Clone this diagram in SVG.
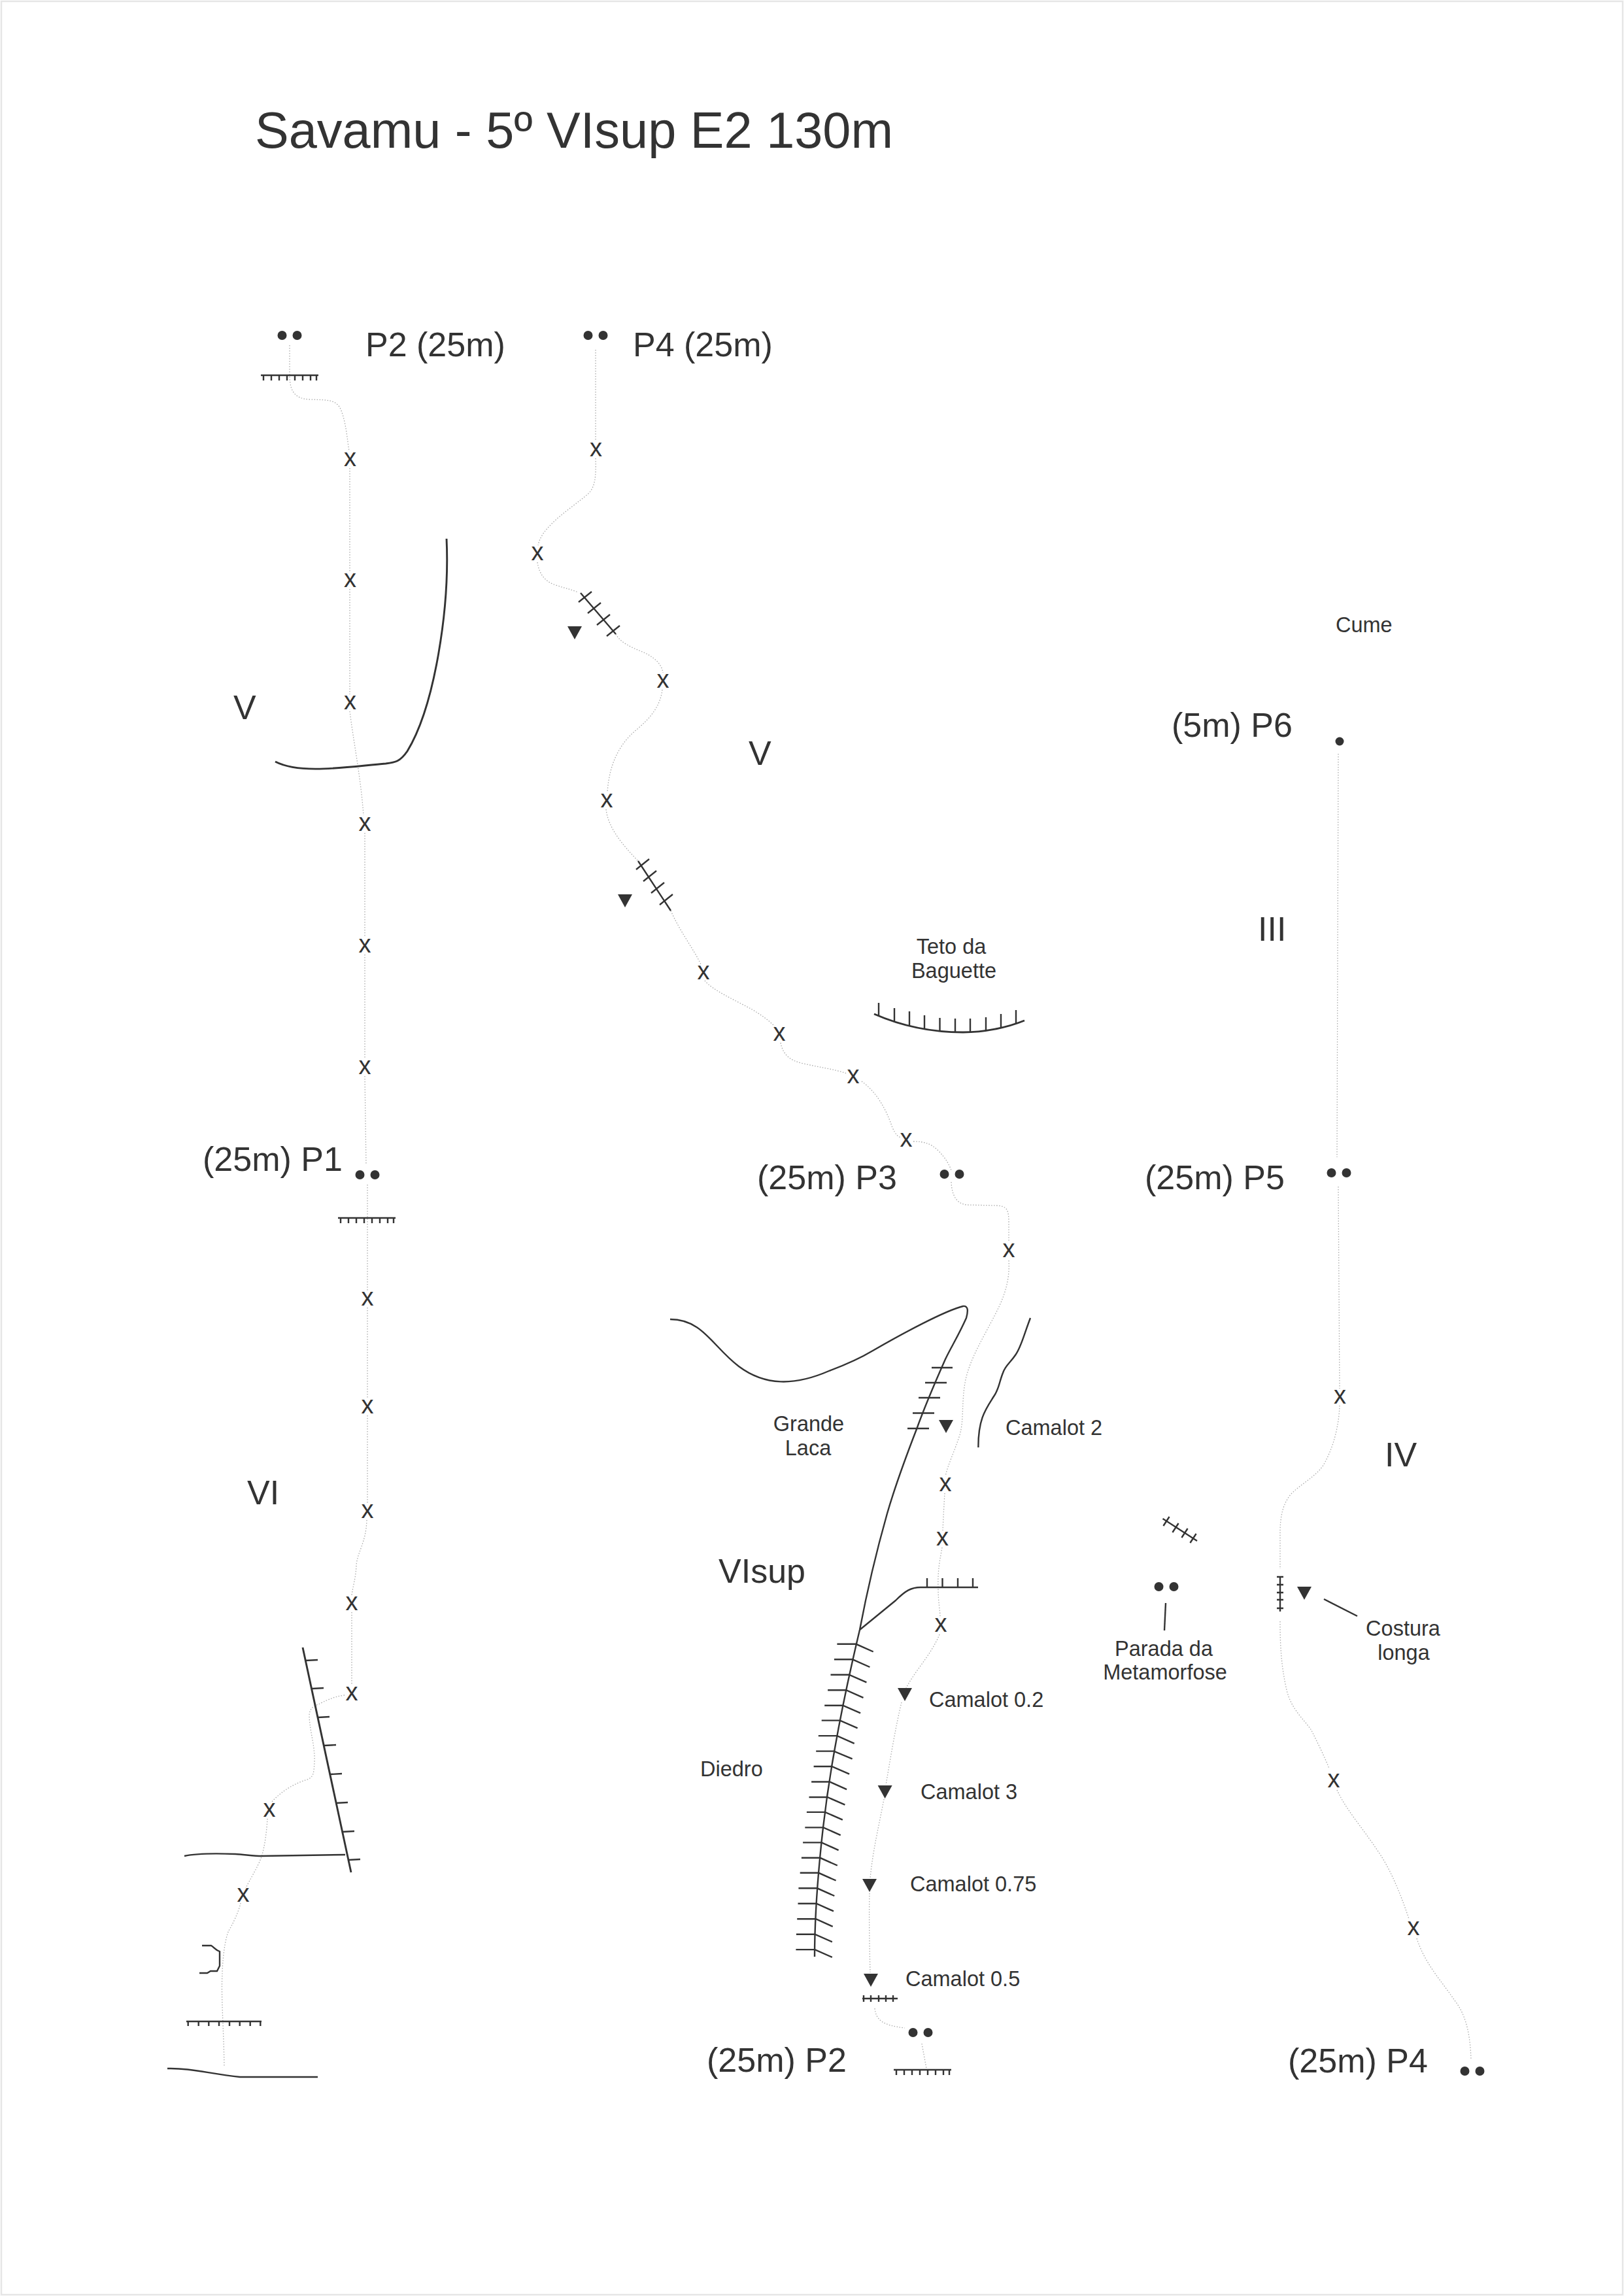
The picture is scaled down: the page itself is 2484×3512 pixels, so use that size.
<svg xmlns="http://www.w3.org/2000/svg" width="2484" height="3512" viewBox="0 0 2484 3512">
<style>
text{font-family:"Liberation Sans",Arial,sans-serif;fill:#333}
.t{font-size:77.500px}.g{font-size:52px}.s{font-size:32.500px}.x{font-size:38px;text-anchor:middle}.m{text-anchor:middle}
.r{fill:none;stroke:#aaa;stroke-width:1.300;stroke-dasharray:1.500 2.500}
.l{fill:none;stroke:#333;stroke-width:2.400;stroke-linecap:butt}
.h{fill:none;stroke:#333;stroke-width:2.900}
.d{fill:#333}
</style>
<defs>
<path id="tri" class="d" d="M-11 -10H11L0 10Z"/>
<g id="anchor"><circle cx="-11.500" cy="0" r="7" class="d"/><circle cx="11.500" cy="0" r="7" class="d"/></g>
<path id="bar" class="l" d="M-44 0H44M-40 0V8M-28 0V8M-16 0V8M-4 0V8M8 0V8M20 0V8M32 0V8M41 0V8"/>
</defs>
<rect width="2484" height="3512" fill="#fff"/>
<rect id="frame" x="2" y="2" width="2480" height="3508" fill="none" stroke="#e6e6e6" stroke-width="2.500"/>
<g id="connectors">
<path id="route-a" class="r" d="M443 528L443 577C444 600 452 610 474 611C500 612 515 610 522 628C530 650 531 672 534 690M535 716V875M535 901V1062M535 1088C540 1130 552 1190 556 1247M558 1274V1434M558 1460V1620M558 1646L560 1782M562 1812V1974M562 2000V2139M562 2165V2299M561 2325C560 2360 546 2375 545 2395C544 2415 540 2425 538 2440M538 2466V2578M527 2593C510 2595 495 2603 487 2607C478 2610 473 2615 473 2625C474 2650 482 2670 481 2695C480 2712 480 2718 470 2722C450 2728 430 2740 415 2757M409 2782C408 2800 405 2825 400 2840C395 2855 382 2875 376 2888M368 2911C365 2925 355 2945 350 2953C344 2965 340 3000 340 3020C338 3050 342 3100 343 3161"/>
<path id="route-b" class="r" d="M911 535V675M911 701C912 730 910 745 900 755C885 768 860 785 845 800C835 810 826 820 823 834M822 860C825 880 835 890 850 895C865 900 875 902 884 906M942 970C948 982 965 990 980 996C1000 1004 1012 1015 1014 1029M1013 1055C1010 1080 995 1098 975 1115C950 1135 932 1165 929 1212M927 1238C930 1265 950 1290 976 1317M1026 1393C1040 1425 1060 1450 1072 1475M1078 1500C1090 1515 1125 1530 1152 1545C1165 1553 1175 1560 1185 1570M1194 1595C1198 1615 1210 1622 1225 1626C1250 1632 1275 1635 1295 1642M1318 1654C1340 1670 1355 1695 1365 1725C1370 1735 1372 1738 1378 1740M1397 1746C1415 1746 1425 1750 1435 1760C1447 1772 1452 1782 1455 1790M1455 1808C1456 1830 1464 1842 1480 1843L1525 1844C1540 1845 1543 1850 1543 1870V1900M1543 1928C1545 1960 1535 1985 1525 2005C1505 2045 1485 2075 1477 2110C1470 2145 1475 2170 1468 2195C1460 2220 1450 2240 1446 2258M1445 2284C1444 2300 1443 2320 1442 2341M1441 2367C1438 2385 1434 2400 1435 2430C1435 2450 1438 2465 1438 2473M1437 2500C1425 2530 1400 2555 1386 2582M1379 2604C1370 2640 1362 2690 1355 2730M1352 2752C1345 2790 1335 2830 1331 2873M1330 2896C1329 2930 1330 2980 1331 3017M1338 3072C1340 3090 1350 3098 1384 3102M1410 3126L1417 3164"/>
<path id="route-c" class="r" d="M2047 1153L2045 1770M2047 1815L2049 2124M2049 2150C2048 2180 2040 2215 2023 2243C2010 2260 1990 2270 1975 2285C1962 2300 1958 2320 1958 2345V2400M1958 2480C1958 2520 1960 2550 1968 2585C1975 2615 1995 2630 2006 2647C2015 2665 2025 2685 2033 2705M2045 2738C2060 2770 2080 2790 2110 2835C2130 2865 2145 2905 2155 2935M2167 2965C2180 3005 2205 3030 2225 3060C2245 3085 2249 3120 2250 3150"/>
<path id="leader-costura" class="l" d="M2025 2446L2076 2472"/>
<path id="leader-parada" class="l" d="M1783 2452L1781 2494"/>
</g>
<g id="title"><text class="t" x="390" y="226">Savamu - 5º VIsup E2 130m</text></g>
<g id="rock-features">
<path id="bulge" class="h" d="M683 824C688 930 665 1080 623 1149C612 1165 605 1166 590 1168C530 1173 460 1185 421 1165"/>
<g id="dihedral-left"><path class="h" d="M463 2520L537 2864"/><path class="l" d="M467 2540L486 2539M477 2583L495 2582M486 2627L504 2626M496 2670L514 2669M505 2714L523 2713M514 2758L532 2757M524 2802L542 2801M533 2845L551 2844"/></g>
<path id="ledge-low" class="l" d="M282 2839C300 2835 333 2835 360 2836C375 2837 390 2839 400 2839L528 2837"/>
<path id="cave" class="l" d="M309 2976H323C328 2979 328 2982 336 2985V3007L332 3015H322L317 3018H305"/>
<path id="bar-start" class="l" d="M285 3092H400M287.700 3092V3099M303.700 3092V3099M319.300 3092V3099M335 3092V3099M351 3092V3099M366.700 3092V3099M382.700 3092V3099M398.300 3092V3099"/>
<path id="ground" class="l" d="M256 3164C290 3163 320 3172 367 3177H486"/>
<use href="#bar" x="443" y="574"/>
<use href="#bar" x="561" y="1863"/>
<g id="teto-baguette"><path class="h" d="M1337 1551C1385 1572 1430 1579 1473 1579C1505 1579 1540 1572 1567 1561"/><path class="l" d="M1344 1534V1554M1368 1542V1563M1391 1547V1569M1414 1553V1574M1437.500 1557V1577M1461 1558V1579M1484 1558V1579M1508 1556V1577M1531 1551V1573M1554 1545V1566"/></g>
<g id="grande-laca"><path class="l" d="M1025 2018C1075 2018 1090 2060 1130 2090C1170 2120 1215 2120 1268 2097C1300 2085 1320 2075 1335 2066C1380 2040 1445 2005 1473 1998C1481 1997 1481 2005 1478 2016C1465 2045 1455 2060 1446 2079C1430 2115 1415 2150 1402 2186C1385 2230 1370 2270 1357 2315C1340 2375 1325 2440 1315 2493C1305 2535 1290 2600 1277 2674C1265 2740 1258 2800 1254 2843C1250 2885 1246 2940 1246 2993"/><path class="l" d="M1425 2092H1457M1415 2115H1448M1405 2138H1438M1396 2161.500H1429M1388 2185H1421"/><path class="l" d="M1315 2493L1370 2448C1385 2433 1394 2428 1408 2428H1496"/><path class="l" d="M1418 2428V2414M1441.500 2428V2414M1465 2428V2414M1488 2428V2414"/></g>
<path id="diedro-ticks" class="l" d="M1280.400 2514.800H1309.400L1335.700 2526.500M1275.900 2538.300H1304L1330.400 2550M1270.500 2561.700H1298.700L1325.400 2573.400M1266.100 2585.200H1294.200L1320.500 2596.900M1261.200 2608.700H1289.300L1316.100 2620.400M1256.700 2631.600H1284.800L1311.600 2643.300M1251.800 2655.100H1280.400L1306.700 2666.800M1248.200 2678.600H1275.400L1303.600 2690.300M1244.600 2702H1272.300L1299.100 2713.700M1241.100 2725.500H1269.200L1295.100 2737.200M1237.500 2749H1265.600L1292.400 2760.700M1233.900 2771.900H1262L1288.800 2783.600M1231.300 2795.400H1259.400L1285.700 2807.100M1228.100 2818.400H1256.700L1282.600 2830.100M1225.900 2841.800H1254.500L1280.800 2853.500M1223.700 2864.800H1252.200L1278.600 2876.500M1221.400 2888.300H1250L1276.300 2900M1220.500 2911.700H1248.700L1275 2923.400M1219.200 2935.200H1247.800L1273.700 2946.900M1217.900 2958.700H1246.400L1272.800 2970.400M1217.400 2982.100H1246.400L1272.800 2993.800"/>
<path id="crack-camalot2" class="l" d="M1576 2016C1565 2045 1562 2060 1553.600 2072C1545 2085 1538 2088 1534 2100C1528 2115 1528 2125 1520 2136C1508 2155 1496 2170 1496.400 2214"/>
<path id="piton-a" class="l" d="M888 907L942 970M885 921L905 905M899 938L919 922M913 956L933 940M928 973L948 957"/>
<path id="piton-b" class="l" d="M976 1317L1026 1393M973 1330L993 1314M984 1348L1004 1332M996 1366L1016 1350M1009 1384L1029 1368"/>
<path id="piton-c" class="l" d="M1778.500 2323L1831 2357M1788.600 2320L1779.400 2334M1802.600 2330L1793.400 2344M1816.600 2338L1807.400 2352M1829.600 2346L1820.400 2360"/>
<path id="piton-d" class="l" d="M1958 2412V2465M1953 2412H1963M1953 2424H1963M1953 2436H1963M1953 2447H1963M1953 2460H1963"/>
<path id="piton-e" class="l" d="M1319 3057H1373M1321 3052V3062M1332 3052V3062M1344 3052V3062M1355 3052V3062M1366 3052V3062"/>
<use href="#bar" x="1411" y="3166"/>
</g>
<g id="bolts">
<text class="x" x="535.500" y="713">x</text><text class="x" x="535.500" y="898">x</text><text class="x" x="535.500" y="1085">x</text>
<text class="x" x="558" y="1271">x</text><text class="x" x="558" y="1457">x</text><text class="x" x="558" y="1643">x</text>
<text class="x" x="562" y="1997">x</text><text class="x" x="562" y="2162">x</text><text class="x" x="562" y="2322">x</text>
<text class="x" x="538" y="2463">x</text><text class="x" x="538" y="2601">x</text><text class="x" x="412" y="2779">x</text><text class="x" x="372" y="2909">x</text>
<text class="x" x="911.500" y="698">x</text><text class="x" x="822" y="857">x</text><text class="x" x="1014" y="1052">x</text><text class="x" x="928" y="1235">x</text>
<text class="x" x="1076" y="1498">x</text><text class="x" x="1192" y="1592">x</text><text class="x" x="1305" y="1657">x</text><text class="x" x="1386" y="1754">x</text><text class="x" x="1543" y="1923">x</text>
<text class="x" x="1446" y="2281">x</text><text class="x" x="1441.500" y="2364">x</text><text class="x" x="1439" y="2496">x</text>
<text class="x" x="2049.500" y="2147">x</text><text class="x" x="2040" y="2734">x</text><text class="x" x="2162" y="2960">x</text>
</g>
<g id="cams">
<use href="#tri" x="879" y="968"/><use href="#tri" x="956" y="1378"/><use href="#tri" x="1447" y="2182"/><use href="#tri" x="1384" y="2592"/><use href="#tri" x="1353.600" y="2741"/><use href="#tri" x="1330" y="2884"/><use href="#tri" x="1332" y="3029"/><use href="#tri" x="1995" y="2437"/>
</g>
<g id="belays">
<g id="belay-p2-top"><use href="#anchor" x="443" y="513"/></g>
<g id="belay-p4-top"><use href="#anchor" x="911" y="513"/></g>
<g id="belay-p1"><use href="#anchor" x="562" y="1797"/></g>
<g id="belay-p3"><use href="#anchor" x="1456" y="1796"/></g>
<g id="belay-p5"><use href="#anchor" x="2048" y="1794"/></g>
<g id="belay-p2"><use href="#anchor" x="1408" y="3109"/></g>
<g id="belay-p4"><use href="#anchor" x="2252" y="3168"/></g>
<g id="belay-metamorfose"><use href="#anchor" x="1784" y="2427"/></g>
<g id="belay-p6"><circle cx="2049" cy="1134" r="6.500" class="d"/></g>
</g>
<g id="labels">
<text class="g" x="559" y="545">P2 (25m)</text>
<text class="g" x="968" y="545">P4 (25m)</text>
<text class="g" x="310" y="1791">(25m) P1</text>
<text class="g" x="1158" y="1819">(25m) P3</text>
<text class="g" x="1751" y="1819">(25m) P5</text>
<text class="g" x="1081" y="3169">(25m) P2</text>
<text class="g" x="1970" y="3170">(25m) P4</text>
<text class="g" x="1792" y="1127">(5m) P6</text>
<text class="s" x="2043" y="967">Cume</text>
<text class="g" x="357" y="1100">V</text>
<text class="g" x="1145" y="1170">V</text>
<text class="g" x="378" y="2301">VI</text>
<text class="g" x="1099" y="2421">VIsup</text>
<text class="g" x="1924" y="1439">III</text>
<text class="g" x="2118" y="2243">IV</text>
<text class="s m" x="1455" y="1459">Teto da</text>
<text class="s m" x="1459" y="1496">Baguette</text>
<text class="s m" x="1237" y="2189">Grande</text>
<text class="s m" x="1236" y="2226">Laca</text>
<text class="s" x="1538" y="2195">Camalot 2</text>
<text class="s" x="1071" y="2717">Diedro</text>
<text class="s" x="1421" y="2611">Camalot 0.2</text>
<text class="s" x="1408" y="2752">Camalot 3</text>
<text class="s" x="1392" y="2893">Camalot 0.75</text>
<text class="s" x="1385" y="3038">Camalot 0.5</text>
<text class="s m" x="1780" y="2533">Parada da</text>
<text class="s m" x="1782" y="2569">Metamorfose</text>
<text class="s m" x="2146" y="2502">Costura</text>
<text class="s m" x="2147" y="2539">longa</text>
</g>
</svg>
